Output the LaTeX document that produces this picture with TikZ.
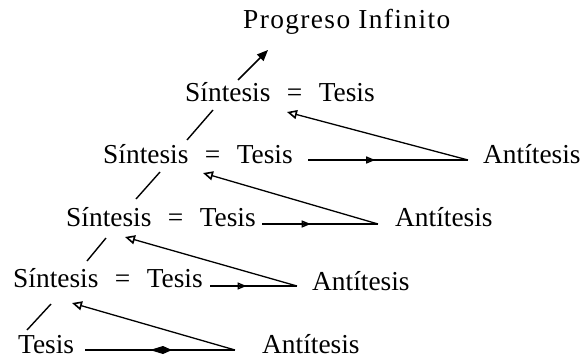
\documentclass[tikz,border=0pt]{standalone}
\usepackage{fontspec}
\setmainfont{Liberation Serif}
\usetikzlibrary{arrows.meta,decorations.markings}
\begin{document}
\begin{tikzpicture}[x=1pt,y=-1pt,
  txt/.style={anchor=base west,inner sep=0pt,font=\fontsize{27.4}{32}\selectfont},
  link/.style={line width=1.4pt},
  ret/.style={line width=1.3pt,-{Triangle[open,length=10pt,width=9pt,line width=1.6pt]}},
  uparrow/.style={line width=1.5pt,-{Triangle[length=11pt,width=9pt]}},
  midarrow/.style={line width=1.3pt,postaction={decorate},
    decoration={markings,mark=at position #1 with {\arrow{Triangle[open,length=9pt,width=7pt,line width=1.4pt]}}}},
  middiamond/.style={line width=1.4pt,postaction={decorate},
    decoration={markings,mark=at position #1 with {\arrow{Kite[length=22pt,width=8pt,inset=13pt]}}}}
]
\useasboundingbox (0,0) rectangle (588,361);
\newcommand{\sintesis}{Síntesis\hspace{0.6em}=\hspace{0.6em}Tesis}

% texts
\node[txt,font=\fontsize{27.4}{32}\selectfont\addfontfeature{LetterSpace=5}] (p) at (243,29) {Progreso Infinito};
\node[txt] (s1) at (185,101) {\sintesis};
\node[txt] (s2) at (103,163) {\sintesis};
\node[txt] (s3) at (66,226) {\sintesis};
\node[txt] (s4) at (13,287) {\sintesis};
\node[txt] (t5) at (18,353) {Tesis};
\node[txt] (a2) at (483,163) {Antítesis};
\node[txt] (a3) at (395,226) {Antítesis};
\node[txt] (a4) at (312,290) {Antítesis};
\node[txt] (a5) at (262,353) {Antítesis};

% named end points
\coordinate (s1up) at (238,80);
\coordinate (pdown) at (268,50);
\coordinate (s2up) at (187,140);
\coordinate (s1low) at (213,110);
\coordinate (s3up) at (136,199);
\coordinate (s2low) at (160,172);
\coordinate (s4up) at (87,261);
\coordinate (s3low) at (106,238);
\coordinate (t5up) at (27,330);
\coordinate (s4low) at (51,304);

\coordinate (h2) at (308,160);
\coordinate (ap2) at (468,160);
\coordinate (r2) at (287,112);
\coordinate (h3) at (262,224);
\coordinate (ap3) at (378,224);
\coordinate (r3) at (203,173);
\coordinate (h4) at (210,286);
\coordinate (ap4) at (297,286);
\coordinate (r4) at (125,237);
\coordinate (h5) at (85,350);
\coordinate (ap5) at (235,350);
\coordinate (r5) at (72,303);

% vertical chain
\draw[uparrow] (s1up) -- (pdown);
\draw[link] (s2up) -- (s1low);
\draw[link] (s3up) -- (s2low);
\draw[link] (s4up) -- (s3low);
\draw[link] (t5up) -- (s4low);

% horizontals with mid arrows
\draw[midarrow=0.42] (h2) -- (ap2);
\draw[midarrow=0.42] (h3) -- (ap3);
\draw[midarrow=0.42] (h4) -- (ap4);
\draw[middiamond=0.58] (h5) -- (ap5);

% return arrows
\draw[ret] (ap2) -- (r2);
\draw[ret] (ap3) -- (r3);
\draw[ret] (ap4) -- (r4);
\draw[ret] (ap5) -- (r5);
\end{tikzpicture}
\end{document}
